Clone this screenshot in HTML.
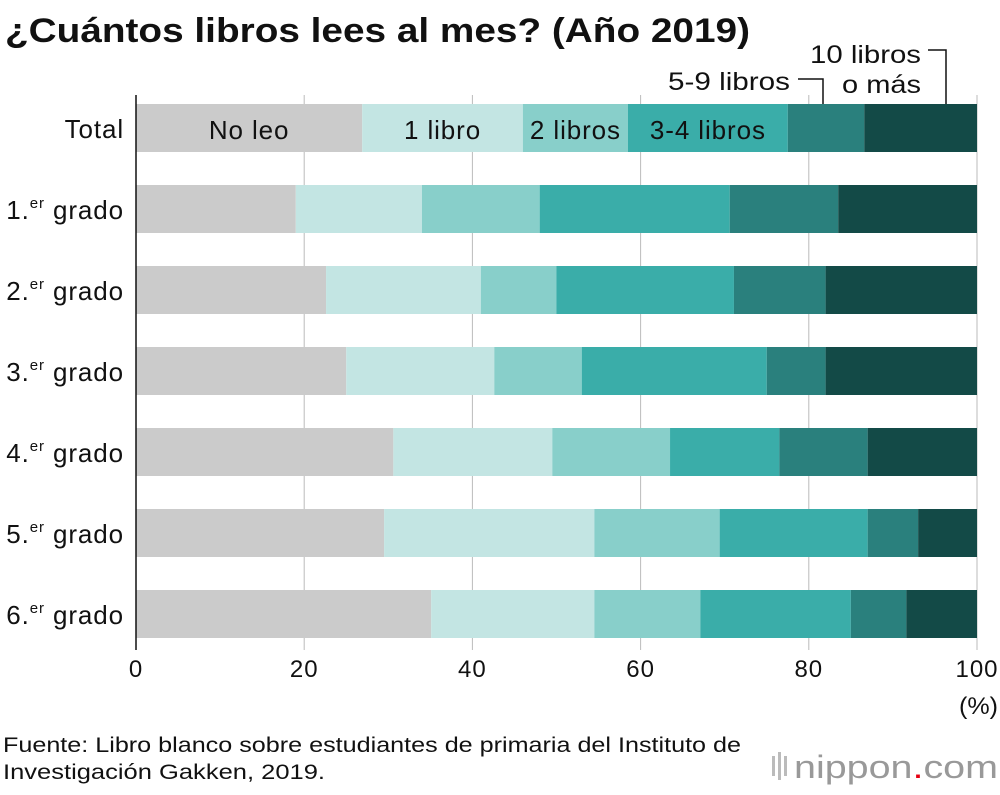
<!DOCTYPE html>
<html><head><meta charset="utf-8"><style>
body{margin:0;background:#fff;font-family:"Liberation Sans",sans-serif;}
svg text{font-family:"Liberation Sans",sans-serif;}
</style></head><body>
<svg id="chart" width="1000" height="790" xmlns="http://www.w3.org/2000/svg">
<text x="5" y="42" font-size="34" font-weight="bold" fill="#111" textLength="745" lengthAdjust="spacingAndGlyphs">¿Cuántos libros lees al mes? (Año 2019)</text>
<g id="grid"></g><g id="bars"></g><g id="labels"></g>
<line x1="136" y1="95" x2="136" y2="650" stroke="#111" stroke-width="1.5"/>
<text x="959" y="714" font-size="24" fill="#111" textLength="39" lengthAdjust="spacingAndGlyphs">(%)</text>
<g>
<text x="668" y="90" font-size="25" fill="#111" textLength="122" lengthAdjust="spacingAndGlyphs">5-9 libros</text>
<polyline points="798,79 823,79 823,104" fill="none" stroke="#111" stroke-width="1.5"/>
<text x="810" y="63" font-size="25" fill="#111" textLength="111" lengthAdjust="spacingAndGlyphs">10 libros</text>
<text x="842" y="93" font-size="25" fill="#111" textLength="79" lengthAdjust="spacingAndGlyphs">o más</text>
<polyline points="928,50 946,50 946,104" fill="none" stroke="#111" stroke-width="1.5"/>
</g>
<text x="3" y="752" font-size="21" fill="#111" textLength="738" lengthAdjust="spacingAndGlyphs">Fuente: Libro blanco sobre estudiantes de primaria del Instituto de</text>
<text x="3" y="779" font-size="21" fill="#111" textLength="322" lengthAdjust="spacingAndGlyphs">Investigación Gakken, 2019.</text>
<g>
<rect x="772" y="756" width="3" height="20" fill="#bbb"/><rect x="778" y="752" width="3" height="28" fill="#bbb"/><rect x="784" y="756" width="3" height="20" fill="#bbb"/>
<text x="794" y="778" font-size="32" fill="#999" textLength="204" lengthAdjust="spacingAndGlyphs">nippon<tspan fill="#e60012">.</tspan>com</text>
</g>
</svg>
<script>
const categories=["Total","1.|er| grado","2.|er| grado","3.|er| grado","4.|er| grado","5.|er| grado","6.|er| grado"];
const seriesNames=["No leo","1 libro","2 libros","3-4 libros","5-9 libros","10 libros o más"];
const noLeo=[26.9,19.0,22.6,25.0,30.6,29.5,35.1];
const unLibro=[19.1,15.0,18.4,17.6,18.9,25.0,19.4];
const dosLibros=[12.5,14.0,9.0,10.4,14.0,14.9,12.6];
const tresCuatro=[19.0,22.6,21.1,22.0,13.0,17.6,17.9];
const cincoNueve=[9.1,12.9,10.9,7.0,10.5,6.0,6.6];
const diezMas=[13.4,16.5,18.0,18.0,13.0,7.0,8.4];
const ticks=[0,20,40,60,80,100];
const series=[noLeo,unLibro,dosLibros,tresCuatro,cincoNueve,diezMas];
const colors=["#cbcbcb","#c3e5e3","#88cfca","#3aada9","#2a807d","#134a47"];
const NS="http://www.w3.org/2000/svg";
const x=v=>136+v*(977-136)/100;
const yTop=i=>104+i*81;
const barH=48;
const grid=document.getElementById('grid'),bars=document.getElementById('bars'),labels=document.getElementById('labels');
function mk(tag,attrs,parent){const e=document.createElementNS(NS,tag);for(const k in attrs)e.setAttribute(k,attrs[k]);parent.appendChild(e);return e;}
ticks.forEach(t=>{
 if(t>0){const l=mk('line',{x1:x(t),x2:x(t),y1:95,y2:650,stroke:'#bbb','stroke-width':1},grid);
 
 }
 const tx=mk('text',{x:x(t),y:677,'font-size':24,'letter-spacing':'1','text-anchor':'middle',fill:'#111'},labels);
 tx.textContent=t;
 
 
});
categories.forEach((c,i)=>{
 let acc=0;
 series.forEach((s,j)=>{
  const r=mk('rect',{x:x(acc),y:yTop(i),width:x(acc+s[i])-x(acc),height:barH,fill:colors[j]},bars);
  
  
  acc+=s[i];
 });
 const parts=c.split('|');
 const t=mk('text',{x:124,y:yTop(i)+34,'font-size':26,'letter-spacing':'0.9','text-anchor':'end',fill:'#111'},labels);
 
 
 if(parts.length===1){t.textContent=c;}
 else{const a=mk('tspan',{},t);a.textContent=parts[0];const b=mk('tspan',{'font-size':15,dy:-11},t);b.textContent=parts[1];const d=mk('tspan',{dy:11},t);d.textContent=' '+parts[2].trim();}
});
let acc=0;
[0,1,2,3].forEach(j=>{
 const v=series[j][0];
 const t=mk('text',{x:x(acc+v/2),y:yTop(0)+35,'font-size':26,'letter-spacing':'0.9','text-anchor':'middle',fill:'#111'},labels);
 t.textContent=seriesNames[j];
 
 
 acc+=v;
});
</script>
</body></html>
